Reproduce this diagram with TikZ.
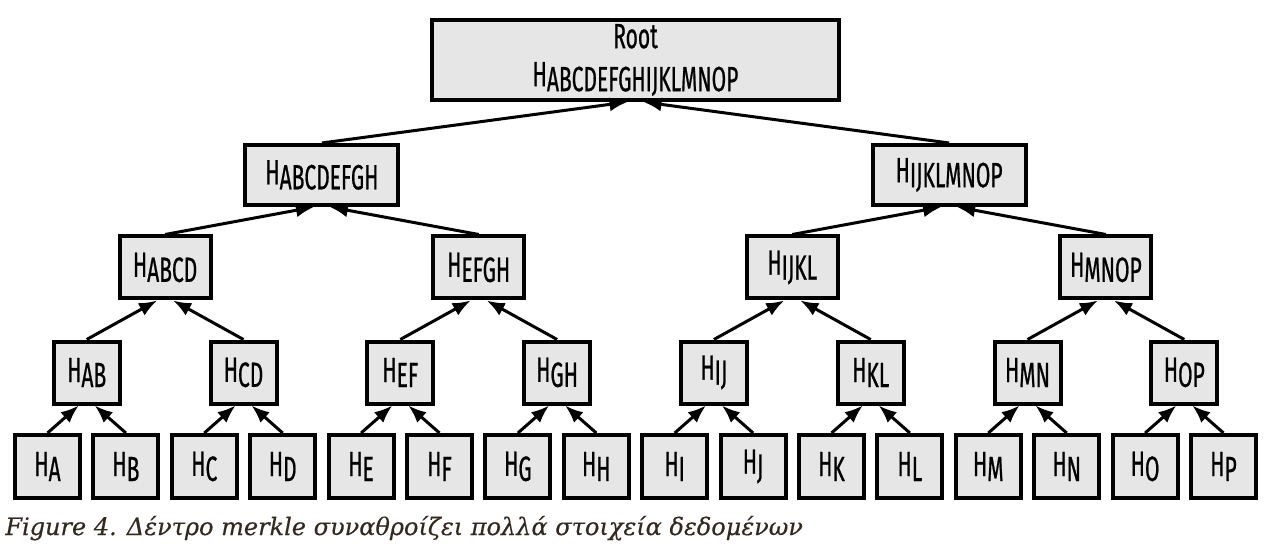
\documentclass[tikz,border=0pt]{standalone}
\usepackage{fontspec}
\setmainfont{Fira Sans}[FakeStretch=0.6, FakeBold=0.6]
\newfontfamily\captionfont{DejaVu Serif}[FakeBold=0.4]
\usetikzlibrary{arrows.meta}

\definecolor{boxfill}{HTML}{E6E6E6}
\definecolor{captiontext}{HTML}{33291F}
\newcommand{\hsub}[1]{H\raisebox{-2.5pt}{#1}}

\begin{document}
\begin{tikzpicture}[x = 0.5pt, y = -0.5pt, font = \fontsize{17.5}{19}\selectfont,
	hashbox/.style = {draw, line width = 2pt, fill = boxfill, inner sep = 0pt, minimum height = 31pt},
	link/.style = {-{Latex[length = 9pt, width = 7pt]}, line width = 1.5pt}]

	\useasboundingbox (0, 0) rectangle (1272, 550);

	% Definitions

	\def\xa{47.5}		% Centre of the first leaf
	\def\dx{78.4}		% Leaf spacing

	\def\yleaf{466.5}	% Row heights
	\def\ytwo{372.5}
	\def\yfour{267.5}
	\def\yeight{175}
	\def\yroot{60}

	% Leaves

	\foreach \n/\l in {0/A, 1/B, 2/C, 3/D, 4/E, 5/F, 6/G, 7/H, 8/I, 9/J, 10/K, 11/L, 12/M, 13/N, 14/O, 15/P}
	{
		\node [hashbox, minimum width = 32.5pt, minimum height = 31.5pt] (h\l) at ({\xa + \n * \dx}, \yleaf) {\hsub{\l}};
	}

	% Pairs

	\foreach \n/\a/\b in {0/A/B, 1/C/D, 2/E/F, 3/G/H, 4/I/J, 5/K/L, 6/M/N, 7/O/P}
	{
		\node [hashbox, minimum width = 33pt] (h\a\b) at ({\xa + (2 * \n + 0.5) * \dx}, \ytwo) {\hsub{\a\b}};
		\draw [link] (h\a.north) -- ([xshift = -4pt] h\a\b.south);
		\draw [link] (h\b.north) -- ([xshift = 4pt] h\a\b.south);
	}

	% Quads

	\foreach \n/\a/\b in {0/AB/CD, 1/EF/GH, 2/IJ/KL, 3/MN/OP}
	{
		\node [hashbox, minimum width = 45.5pt] (h\a\b) at ({\xa + (4 * \n + 1.5) * \dx}, \yfour) {\hsub{\a\b}};
		\draw [link] (h\a.north) -- ([xshift = -4pt] h\a\b.south);
		\draw [link] (h\b.north) -- ([xshift = 4pt] h\a\b.south);
	}

	% Halves

	\foreach \n/\a/\b in {0/ABCD/EFGH, 1/IJKL/MNOP}
	{
		\node [hashbox, minimum width = 76.5pt, minimum height = 30pt] (h\a\b) at ({\xa + (8 * \n + 3.5) * \dx}, \yeight) {\hsub{\a\b}};
		\draw [link] (h\a.north) -- ([xshift = -4pt] h\a\b.south);
		\draw [link] (h\b.north) -- ([xshift = 4pt] h\a\b.south);
	}

	% Root

	\node [hashbox, minimum width = 203.5pt, minimum height = 40pt, align = center] (root) at ({\xa + 7.5 * \dx}, \yroot) {Root\\\hsub{ABCDEFGHIJKLMNOP}};
	\draw [link] (hABCDEFGH.north) -- ([xshift = -4pt] root.south);
	\draw [link] (hIJKLMNOP.north) -- ([xshift = 4pt] root.south);

	% Caption

	\node [anchor = base west, inner sep = 0pt, text = captiontext, font = \captionfont\itshape\fontsize{12}{14}\selectfont] (caption) at (5, 535) {Figure 4. Δέντρο merkle συναθροίζει πολλά στοιχεία δεδομένων};

\end{tikzpicture}
\end{document}
